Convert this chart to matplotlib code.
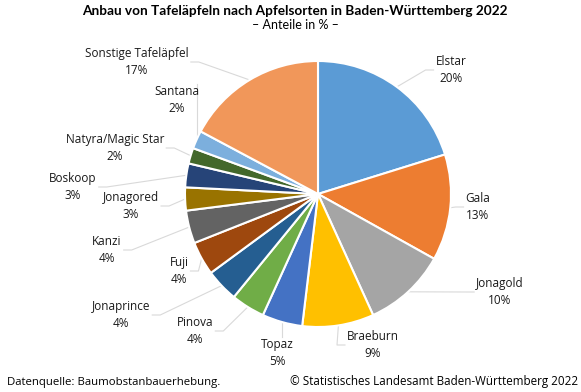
import matplotlib
matplotlib.use("Agg")
import matplotlib.pyplot as plt
import numpy as np

W, H = 581, 392

# data (shares in %) and printed labels
sorten = ["Elstar", "Gala", "Jonagold", "Braeburn", "Topaz", "Pinova", "Jonaprince",
          "Fuji", "Kanzi", "Jonagored", "Boskoop", "Natyra/Magic Star", "Santana",
          "Sonstige Tafeläpfel"]
anteile = [20.2, 12.9, 10.1, 8.7, 4.9, 4.1, 4.0, 4.1, 4.0, 2.8, 2.9, 1.9, 2.2, 17.2]
anteil_label = ["20%", "13%", "10%", "9%", "5%", "4%", "4%", "4%", "4%", "3%", "3%",
                "2%", "2%", "17%"]
farben = ["#5B9BD5", "#ED7D31", "#A5A5A5", "#FFC000", "#4472C4", "#70AD47", "#255E91",
          "#9E480E", "#636363", "#997300", "#264478", "#43682B", "#7CAFDD", "#F1975A"]

# label centres in pixels (x, y from top)
label_pos = [(451, 70), (478, 207), (500, 292), (373, 345), (277, 353), (195, 331),
             (121, 315), (179, 271), (107, 250), (131, 206), (73, 187), (115, 148),
             (177, 100), (137, 62)]

cx, cy, r = 318, H - 194, 133

fig = plt.figure(figsize=(W / 100, H / 100), dpi=100)
ax = fig.add_axes([0, 0, 1, 1])
ax.axis("off")

wedges, _ = ax.pie(anteile, colors=farben, startangle=90, counterclock=False,
                   center=(cx, cy), radius=r,
                   wedgeprops=dict(edgecolor="white", linewidth=1.5))
ax.set_xlim(0, W)
ax.set_ylim(0, H)
ax.set_aspect("equal")

lab_font = dict(family="Open Sans", size=8.5, color="#1a1a1a")
texts = []
for name, pct, (lx, ly) in zip(sorten, anteil_label, label_pos):
    t = ax.text(lx, H - ly, name + "\n" + pct, ha="center", va="center",
                linespacing=1.35, **lab_font)
    texts.append(t)

# leader lines from slice edge to label
fig.canvas.draw()
rend = fig.canvas.get_renderer()
for w, t in zip(wedges, texts):
    mid = np.deg2rad((w.theta1 + w.theta2) / 2)
    px, py = cx + r * np.cos(mid), cy + r * np.sin(mid)
    bb = t.get_window_extent(rend)
    ty = (bb.y0 + bb.y1) / 2
    if bb.x0 > px:
        ex = bb.x0 - 2
        elbow = ex - 8
    elif bb.x1 < px:
        ex = bb.x1 + 2
        elbow = ex + 8
    else:
        ex = px
        elbow = px
        ty = bb.y1 + 1
    ax.plot([px, elbow, ex], [py, ty, ty], color="#D9D9D9", lw=0.8, zorder=0)

fig.text(295 / W, 1 - 11 / H, "Anbau von Tafeläpfeln nach Apfelsorten in Baden-Württemberg 2022",
         ha="center", va="center", family="Lato", weight="bold", size=9.8)
fig.text(295 / W, 1 - 25 / H, "– Anteile in % –", ha="center", va="center",
         family="Lato", size=9)
fig.text(7 / W, 1 - 382 / H, "Datenquelle: Baumobstanbauerhebung.", ha="left", va="center",
         family="Open Sans", size=8.2)
fig.text(578 / W, 1 - 382 / H, "© Statistisches Landesamt Baden-Württemberg 2022", ha="right",
         va="center", family="Open Sans", size=8.4)

fig.savefig("out.png", dpi=100)
